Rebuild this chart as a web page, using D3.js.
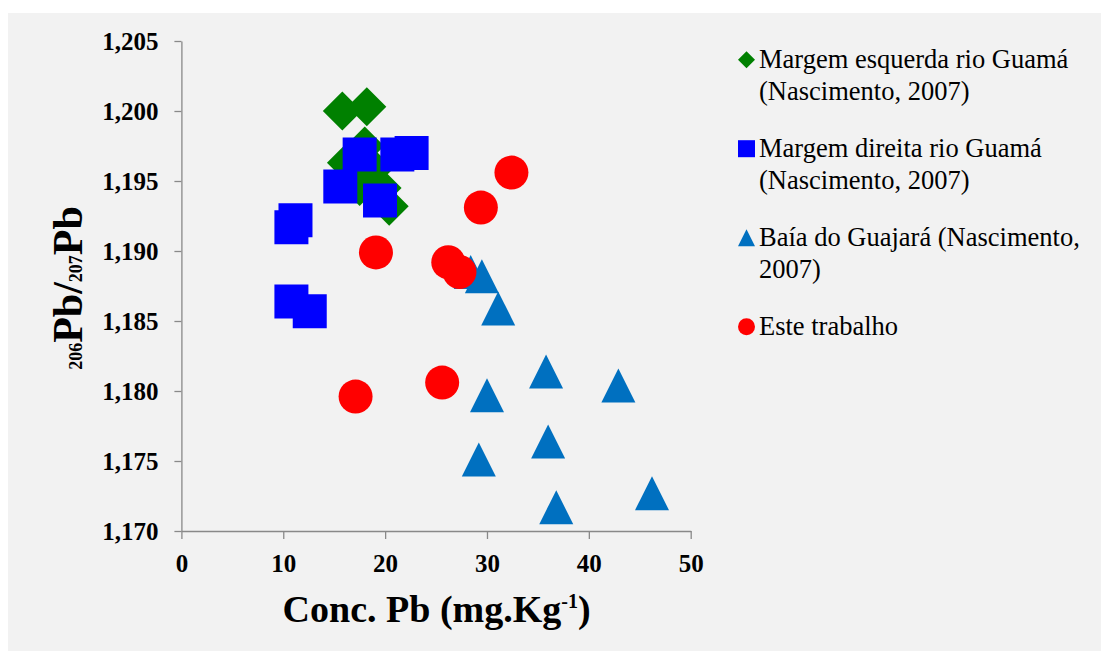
<!DOCTYPE html>
<html>
<head>
<meta charset="utf-8">
<script src="https://cdn.jsdelivr.net/npm/d3@7"></script>
<style>
  html, body { margin: 0; padding: 0; background: #ffffff; }
  svg { display: block; }
  svg text { font-family: "Liberation Serif", "Times New Roman", Times, serif !important; fill: #000; }
</style>
</head>
<body>
<svg id="chart" width="1101" height="651"></svg>
<script>
// Lead concentration (mg/kg) vs 206Pb/207Pb ratio, four sample groups
const esquerdaX = [15.8, 18.2, 18.0, 16.2, 19.7, 20.4, 17.5, 18.9];
const esquerdaY = [1.2000, 1.2003, 1.1975, 1.1963, 1.1945, 1.1932, 1.1946, 1.1959];

const direitaX = [17.5, 21.2, 22.6, 15.6, 19.5, 11.2, 10.8, 10.8, 12.6];
const direitaY = [1.1969, 1.1969, 1.1970, 1.1946, 1.1936, 1.1922, 1.1917, 1.1864, 1.1857];

const guajaraX = [28.4, 29.5, 31.1, 35.8, 42.9, 30.0, 36.0, 29.2, 46.2, 36.8];
const guajaraY = [1.1885, 1.1882, 1.1859, 1.1814, 1.1804, 1.1797, 1.1764, 1.1751, 1.1727, 1.1717];

const esteX = [32.4, 29.4, 19.1, 26.2, 27.3, 25.6, 17.1];
const esteY = [1.1956, 1.1931, 1.1899, 1.1892, 1.1885, 1.1806, 1.1796];

const xTicks = [0, 10, 20, 30, 40, 50];
const yTicks = [1.170, 1.175, 1.180, 1.185, 1.190, 1.195, 1.200, 1.205];

const legendLines = [
  ["Margem esquerda rio Guamá", "(Nascimento, 2007)"],
  ["Margem direita rio Guamá", "(Nascimento, 2007)"],
  ["Baía do Guajará (Nascimento,", "2007)"],
  ["Este trabalho"]
];

const serif = "'Liberation Serif', 'Times New Roman', Times, serif";
const svg = d3.select("#chart");

// panel background
svg.append("rect").attr("x", 8).attr("y", 13).attr("width", 1093).attr("height", 638).attr("fill", "#f2f2f2");

const x = d3.scaleLinear().domain([0, 50]).range([181.4, 690.7]);
const y = d3.scaleLinear().domain([1.170, 1.205]).range([531, 41]);

const axisColor = "#898989";
const fmt = d => d3.format(".3f")(d).replace(".", ",");

const yAxis = svg.append("g")
  .attr("transform", `translate(${x(0)},0)`)
  .call(d3.axisLeft(y).tickValues(yTicks).tickFormat(fmt).tickSize(7).tickSizeOuter(0).tickPadding(16));

const xAxis = svg.append("g")
  .attr("transform", `translate(0,${y(1.170)})`)
  .call(d3.axisBottom(x).tickValues(xTicks).tickFormat(d3.format("d")).tickSize(8).tickSizeOuter(0).tickPadding(15));

[xAxis, yAxis].forEach(g => {
  g.attr("font-family", serif);
  g.select(".domain").attr("stroke", axisColor).attr("stroke-width", 1.3);
  g.selectAll(".tick line").attr("stroke", axisColor).attr("stroke-width", 1.3);
  g.selectAll(".tick text")
    .style("font-family", serif)
    .style("font-weight", "bold")
    .style("font-size", "25px")
    .attr("fill", "#000");
});

// marker shapes
const shapes = {
  diamond: s => { const h = s / 2; return `M0,${-h}L${h},0L0,${h}L${-h},0Z`; },
  square: s => { const h = s / 2; return `M${-h},${-h}H${h}V${h}H${-h}Z`; },
  triangle: s => { const h = s / 2; return `M0,${-h}L${h},${h}L${-h},${h}Z`; },
  circle: s => { const r = s / 2; return `M${r},0A${r},${r} 0 1,1 ${-r},0A${r},${r} 0 1,1 ${r},0Z`; }
};

const series = [
  { xs: esquerdaX, ys: esquerdaY, shape: "diamond", color: "#008000", size: 39, legSize: 17 },
  { xs: direitaX, ys: direitaY, shape: "square", color: "#0000ff", size: 34, legSize: 17 },
  { xs: guajaraX, ys: guajaraY, shape: "triangle", color: "#0070c0", size: 34, legSize: 17 },
  { xs: esteX, ys: esteY, shape: "circle", color: "#ff0000", size: 34, legSize: 17 }
];

series.forEach(s => {
  const pts = s.xs.map((v, i) => [v, s.ys[i]]);
  svg.append("g").selectAll("path").data(pts).join("path")
    .attr("d", shapes[s.shape](s.size))
    .attr("transform", d => `translate(${x(d[0])},${y(d[1])})`)
    .attr("fill", s.color);
});

// legend
const legend = svg.append("g");
const legendBase = [68, 157, 246, 335];
series.forEach((s, i) => {
  legend.append("path")
    .attr("d", shapes[s.shape](s.legSize))
    .attr("transform", `translate(746.5,${legendBase[i] - 8.3})`)
    .attr("fill", s.color);
  legendLines[i].forEach((line, j) => {
    legend.append("text")
      .attr("x", 759)
      .attr("y", legendBase[i] + j * 31.5)
      .style("font-family", serif)
      .style("font-size", "26.5px")
      .text(line);
  });
});

// x-axis title
const xt = svg.append("text")
  .attr("x", 436.6).attr("y", 622)
  .attr("text-anchor", "middle")
  .style("font-family", serif)
  .style("font-weight", "bold")
  .style("font-size", "38px");
xt.append("tspan").text("Conc. Pb (mg.Kg");
xt.append("tspan").style("font-size", "20px").attr("dy", -14).text("-1");
xt.append("tspan").attr("dy", 14).text(")");

// y-axis title
const yt = svg.append("text")
  .attr("transform", "translate(82,288) rotate(-90)")
  .attr("text-anchor", "middle")
  .style("font-family", serif)
  .style("font-weight", "bold")
  .style("font-size", "42px");
yt.append("tspan").style("font-size", "18px").text("206");
yt.append("tspan").text("Pb/");
yt.append("tspan").style("font-size", "18px").text("207");
yt.append("tspan").text("Pb");
</script>
</body>
</html>
